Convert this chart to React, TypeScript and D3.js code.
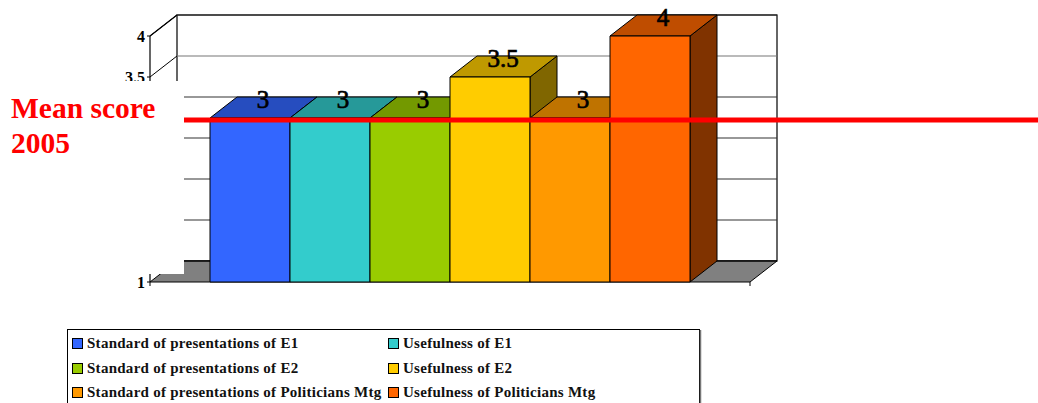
import React from "react";
import * as d3 from "d3";

const categories = [
  "Standard of presentations of E1",
  "Usefulness of E1",
  "Standard of presentations of E2",
  "Usefulness of E2",
  "Standard of presentations of Politicians Mtg",
  "Usefulness of Politicians Mtg",
];
const scores = [3, 3, 3, 3.5, 3, 4];
const barColors = ["#3366FF", "#33CCCC", "#99CC00", "#FFCC00", "#FF9900", "#FF6600"];
const gridValues = [1.5, 2, 2.5, 3, 3.5, 4];
const tickLabels = [1, 3.5, 4];
const benchmarkLines = ["Mean score", "2005"];

const WIDTH = 1038;
const HEIGHT = 403;
const SERIF = "'Liberation Serif', 'Times New Roman', serif";

// Oblique offset of the back wall relative to the front plane.
const DX = 27;
const DY = -21;

const y = d3.scaleLinear().domain([1, 4]).range([282, 36]);
const x = d3.scaleBand<string>().domain(categories).range([210, 690]);
const PLOT_LEFT = 150;
const PLOT_RIGHT = 750;

const poly = (pts: [number, number][]) => pts.map((p) => p.join(",")).join(" ");

export default function App() {
  const base = y(1);
  const legendCols = [
    { swatch: 72.5, text: 87 },
    { swatch: 388.5, text: 403 },
  ];
  const legendRows = [343, 368, 392];

  return (
    <svg
      width={WIDTH}
      height={HEIGHT}
      style={{ position: "absolute", left: 0, top: 0, background: "#fff" }}
      fontFamily={SERIF}
    >
      {/* back and side walls */}
      <rect x={PLOT_LEFT + DX} y={y(4) + DY} width={PLOT_RIGHT - PLOT_LEFT} height={base - y(4)} fill="#fff" stroke="#000" strokeWidth={1.2} />
      <line x1={PLOT_LEFT} y1={y(4)} x2={PLOT_LEFT + DX} y2={y(4) + DY} stroke="#000" strokeWidth={1.2} />
      <line x1={PLOT_LEFT} y1={y(1)} x2={PLOT_LEFT} y2={y(4)} stroke="#000" strokeWidth={1.2} />

      {/* gridlines */}
      {gridValues.map((v) => (
        <g key={v}>
          <line x1={PLOT_LEFT + DX} y1={y(v) + DY} x2={PLOT_RIGHT + DX} y2={y(v) + DY} stroke={v === 3.5 ? "#777" : "#333"} strokeWidth={1.1} />
          <line x1={PLOT_LEFT} y1={y(v)} x2={PLOT_LEFT + DX} y2={y(v) + DY} stroke="#000" strokeWidth={1} />
        </g>
      ))}

      {/* floor */}
      <polygon
        points={poly([
          [PLOT_LEFT, base],
          [PLOT_LEFT + DX, base + DY],
          [PLOT_RIGHT + DX, base + DY],
          [PLOT_RIGHT, base],
        ])}
        fill="#808080"
      />
      <line x1={PLOT_LEFT + DX} y1={base + DY} x2={PLOT_RIGHT + DX} y2={base + DY} stroke="#000" strokeWidth={1.5} />
      <line x1={PLOT_RIGHT} y1={base} x2={PLOT_RIGHT + DX} y2={base + DY} stroke="#000" strokeWidth={1} />
      <line x1={PLOT_LEFT} y1={base} x2={PLOT_LEFT + DX} y2={base + DY} stroke="#000" strokeWidth={1} />

      {/* axis ticks */}
      {tickLabels.map((v) => (
        <g key={v}>
          <line x1={PLOT_LEFT - 3} y1={y(v)} x2={PLOT_LEFT} y2={y(v)} stroke="#000" />
          <text x={PLOT_LEFT - 5} y={y(v) + 5.5} textAnchor="end" fontSize={16} fontWeight="bold">
            {v}
          </text>
        </g>
      ))}
      <line x1={PLOT_LEFT} y1={base} x2={PLOT_RIGHT} y2={base} stroke="#000" strokeWidth={1.2} />
      <line x1={PLOT_RIGHT} y1={base} x2={PLOT_RIGHT} y2={base + 4} stroke="#000" />
      <line x1={PLOT_LEFT} y1={base} x2={PLOT_LEFT} y2={base + 4} stroke="#000" />

      {/* bars, drawn left to right so each covers its neighbour's side face */}
      {categories.map((c, i) => {
        const x0 = x(c)!;
        const x1 = x0 + x.bandwidth();
        const top = y(scores[i]);
        const col = d3.rgb(barColors[i]);
        const shade = (k: number) => d3.rgb(col.r * k, col.g * k, col.b * k).formatHex();
        return (
          <g key={c} stroke="#000" strokeWidth={1} strokeLinejoin="round">
            <polygon
              points={poly([[x1, top], [x1 + DX, top + DY], [x1 + DX, base + DY], [x1, base]])}
              fill={shade(0.5)}
            />
            <polygon
              points={poly([[x0, top], [x0 + DX, top + DY], [x1 + DX, top + DY], [x1, top]])}
              fill={shade(0.75)}
            />
            <rect x={x0} y={top} width={x1 - x0} height={base - top} fill={barColors[i]} />
          </g>
        );
      })}

      {/* value labels */}
      {categories.map((c, i) => (
        <text
          key={c}
          x={x(c)! + x.bandwidth() / 2 + DX / 2 - 0.5}
          y={y(scores[i]) - 10.5}
          textAnchor="middle"
          fontSize={25}
          stroke="#000"
          strokeWidth={0.7}
        >
          {scores[i]}
        </text>
      ))}

      {/* benchmark annotation over the chart */}
      <rect x={0} y={81} width={184} height={193} fill="#fff" />
      <line x1={184} y1={120} x2={WIDTH} y2={120} stroke="#FF0000" strokeWidth={5} />
      {benchmarkLines.map((t, i) => (
        <text key={t} x={11} y={118 + i * 35} fontSize={29.5} fontWeight="bold" fill="#FF0000">
          {t}
        </text>
      ))}

      {/* legend */}
      <rect x={67.5} y={329.5} width={632} height={100} fill="#fff" stroke="#000" strokeWidth={1} />
      <line x1={700.5} y1={330} x2={700.5} y2={403} stroke="#777" strokeWidth={1.5} />
      {categories.map((c, i) => {
        const col = legendCols[i % 2];
        const rowY = legendRows[Math.floor(i / 2)];
        return (
          <g key={c}>
            <rect x={col.swatch} y={rowY - 4.5} width={10} height={10} fill={barColors[i]} stroke="#000" strokeWidth={1} />
            <text x={col.text} y={rowY + 5} fontSize={15} letterSpacing={0.27} fontWeight="bold" fill="#111">
              {c}
            </text>
          </g>
        );
      })}
    </svg>
  );
}
